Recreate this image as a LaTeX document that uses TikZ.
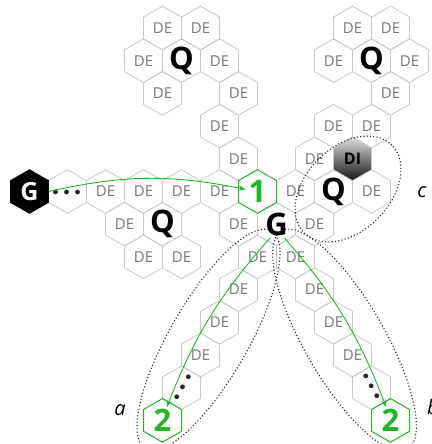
\documentclass[tikz,border=0pt]{standalone}
\usepackage{fontspec}
\setmainfont{Open Sans}
\usetikzlibrary{arrows.meta}
\definecolor{hexgray}{RGB}{200,200,200}
\definecolor{degray}{RGB}{118,118,118}
\definecolor{hgreen}{RGB}{30,185,30}
\begin{document}
\begin{tikzpicture}[x=1pt,y=1pt,
  hexline/.style={draw=hexgray,line width=0.8pt},
  greenhex/.style={draw=hgreen,line width=1pt},
  detext/.style={text=degray,font=\fontsize{15}{15}\selectfont,inner sep=1pt},
  bigtext/.style={font=\fontsize{31}{31}\selectfont\bfseries,inner sep=2pt},
  greentext/.style={bigtext,text=hgreen},
  lbl/.style={font=\fontsize{20}{20}\selectfont\itshape,inner sep=1pt},
  grouping/.style={draw=black!85,line width=1.1pt,dash pattern=on 1.1pt off 2.2pt},
  flow/.style={draw=hgreen,line width=0.9pt,-{Stealth[length=7pt,width=5.5pt]}},
  dot/.style={circle,fill=black!85,inner sep=0pt,minimum size=4.8pt}
]
\useasboundingbox (0,0) rectangle (431,-444);
% grey hexagons
\foreach \k/\r in {7/0,9/0,17/0,19/0, 6/1,8/1,10/1,16/1,18/1,20/1, 7/2,11/2,19/2,
  10/3,16/3,18/3, 11/4,15/4, 2/5,4/5,6/5,8/5,10/5,14/5,16/5,18/5,
  5/6,7/6,11/6,13/6,15/6, 6/7,8/7,12/7,14/7, 11/8,15/8, 10/9,16/9, 9/10,17/10, 8/11,18/11}
  \draw[hexline] ({29.5+19*\k},{-28-32.7*\r}) +(0,21.8) -- +(19,10.9) -- +(19,-10.9) -- +(0,-21.8) -- +(-19,-10.9) -- +(-19,10.9) -- cycle;
% DI hexagon (shaded)
\path[draw=hexgray,line width=0.8pt,top color=black!12,bottom color=black!92] (352.5,-158.8) +(0,21.8) -- +(19,10.9) -- +(19,-10.9) -- +(0,-21.8) -- +(-19,-10.9) -- +(-19,10.9) -- cycle;
% black G hexagon
\path[fill=black,draw=black,line width=0.8pt] (29.5,-191.5) +(0,21.8) -- +(19,10.9) -- +(19,-10.9) -- +(0,-21.8) -- +(-19,-10.9) -- +(-19,10.9) -- cycle;
% DE labels
\foreach \k/\r in {7/0,9/0,17/0,19/0, 6/1,10/1,16/1,20/1, 7/2,11/2,19/2,
  10/3,16/3,18/3, 11/4,15/4, 4/5,6/5,8/5,10/5,14/5,18/5,
  5/6,11/6,15/6, 6/7,8/7,12/7,14/7, 11/8,15/8, 10/9,16/9, 9/10,17/10}
  \node[detext] (de-\k-\r) at ({29.5+19*\k},{-28-32.7*\r}) {DE};
% big letters
\node[bigtext] (q1) at (181.5,-60.7) {Q};
\node[bigtext] (q2) at (371.5,-60.7) {Q};
\node[bigtext] (q3) at (333.5,-191.5) {Q};
\node[bigtext] (q4) at (162.5,-224.2) {Q};
\node[bigtext] (g) at (276.5,-224.2) {G};
\node[font=\fontsize{16}{16}\selectfont\bfseries,inner sep=1pt] (di) at (352.5,-158.8) {DI};
\node[font=\fontsize{25}{25}\selectfont\bfseries,text=white,minimum width=38pt,inner sep=0pt] (g0) at (29.5,-191.5) {G};
% dots
\node[dot] (d1) at (55.5,-192) {};
\node[dot] (d2) at (66.5,-192) {};
\node[dot] (d3) at (77.5,-192) {};
\node[dot] (d4) at (188.3,-376.7) {};
\node[dot] (d5) at (182.5,-386.8) {};
\node[dot] (d6) at (176.7,-396.7) {};
\node[dot] (d7) at (365.7,-375.9) {};
\node[dot] (d8) at (371.2,-385.8) {};
\node[dot] (d9) at (376.7,-395.7) {};
% dotted groupings
\draw[grouping,rotate around={60:(208.5,-340)}] (208.5,-340) ellipse [x radius=126, y radius=39];
\draw[grouping,rotate around={-60:(344.5,-340)}] (344.5,-340) ellipse [x radius=126, y radius=40];
\draw[grouping,rotate around={45:(348,-189)}] (348,-189) ellipse [x radius=62, y radius=42];
% green hexagons
\draw[greenhex] (257.5,-191.5) +(0,21.8) -- +(19,10.9) -- +(19,-10.9) -- +(0,-21.8) -- +(-19,-10.9) -- +(-19,10.9) -- cycle;
\draw[greenhex] (162.5,-420.4) +(0,21.8) -- +(19,10.9) -- +(19,-10.9) -- +(0,-21.8) -- +(-19,-10.9) -- +(-19,10.9) -- cycle;
\draw[greenhex] (390.5,-420.4) +(0,21.8) -- +(19,10.9) -- +(19,-10.9) -- +(0,-21.8) -- +(-19,-10.9) -- +(-19,10.9) -- cycle;
\node[greentext,inner xsep=3pt] (one) at (257.5,-191.5) {1};
\node[greentext] (twoL) at (162.5,-420.4) {2};
\node[greentext] (twoR) at (390.5,-420.4) {2};
% arrows
\draw[flow] (g0.east) to[bend left=12] (one.170);
\draw[flow] (g.245) to[bend right=10] (twoL.72);
\draw[flow] (g.300) to[bend left=10] (twoR.108);
% labels
\node[lbl] (la) at (120,-410) {a};
\node[lbl] (lb) at (433,-407) {b};
\node[lbl] (lc) at (422,-192) {c};
\end{tikzpicture}
\end{document}
